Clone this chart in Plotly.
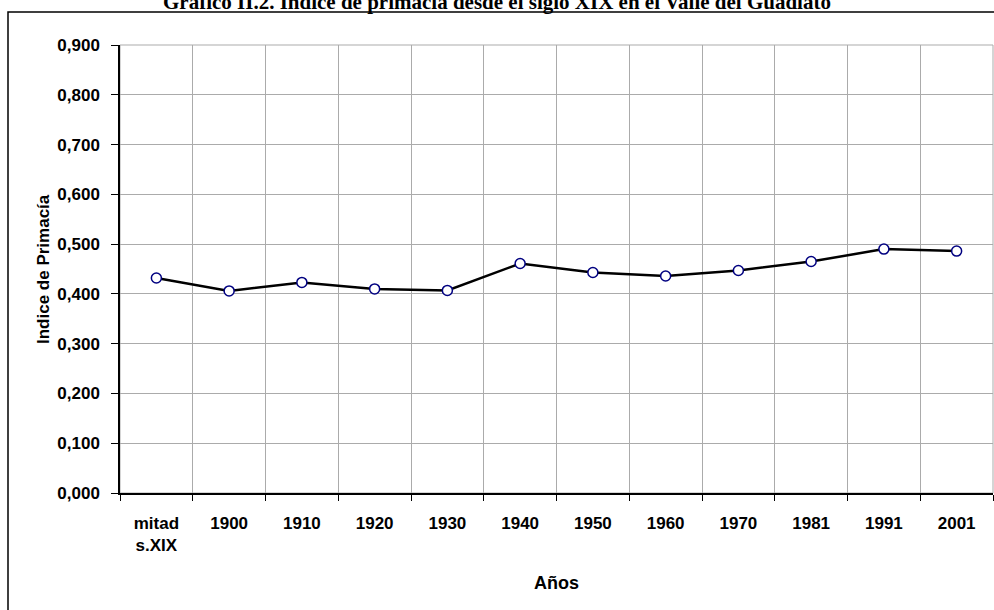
import plotly.graph_objects as go

categories = ["mitad<br>s.XIX", "1900", "1910", "1920", "1930", "1940",
              "1950", "1960", "1970", "1981", "1991", "2001"]
values = [0.432, 0.406, 0.423, 0.410, 0.407, 0.461,
          0.443, 0.436, 0.447, 0.465, 0.490, 0.486]
y_ticks = [0.0, 0.1, 0.2, 0.3, 0.4, 0.5, 0.6, 0.7, 0.8, 0.9]

title_text = "Gráfico II.2. Índice de primacía desde el siglo XIX en el Valle del Guadiato"
y_title = "Indice de Primacía"
x_title = "Años"

W, H = 994, 610
L, R, T, B = 120, 1, 45, 117
pw, ph = W - L - R, H - T - B

def px_x(px):
    return (px - L) / pw

def px_y(py):
    return (H - B - py) / ph

font_sans = "Liberation Sans, Arial, sans-serif"

fig = go.Figure()
fig.add_trace(go.Scatter(
    x=categories, y=values, mode="lines+markers",
    line=dict(color="black", width=2.5),
    marker=dict(symbol="circle", size=10, color="white",
                line=dict(color="#000080", width=1.5)),
    showlegend=False,
))

fig.update_layout(
    width=W, height=H,
    margin=dict(l=L, r=R, t=T, b=B, pad=0, autoexpand=False),
    paper_bgcolor="white", plot_bgcolor="white",
    separators=",.",
    font=dict(family=font_sans, size=16, color="black"),
)

fig.update_xaxes(
    type="category", tickson="boundaries", range=[-0.5, 11.5],
    automargin=False,
    showgrid=True, gridcolor="#ababab", gridwidth=1,
    showline=True, linecolor="black", linewidth=1.5,
    ticks="outside", ticklen=6, tickcolor="black", tickwidth=1,
    tickfont=dict(family=font_sans, size=17, color="black", weight="bold"),
    ticklabelstandoff=14,
)
fig.update_yaxes(
    range=[0, 0.9], tickvals=y_ticks, tickformat=".3f",
    automargin=False,
    showgrid=True, gridcolor="#ababab", gridwidth=1, zeroline=False,
    showline=True, linecolor="black", linewidth=1.5,
    ticks="outside", ticklen=7, tickcolor="black", tickwidth=1,
    tickfont=dict(family=font_sans, size=17, color="black", weight="bold"),
    ticklabelstandoff=8,
)

# plot area top/right border (gray)
fig.add_shape(type="rect", xref="paper", yref="paper", x0=0, y0=0, x1=1, y1=1,
              line=dict(color="#ababab", width=1), layer="below")
# outer chart frame
fig.add_shape(type="rect", xref="paper", yref="paper",
              x0=px_x(8), y0=px_y(700), x1=px_x(1100), y1=px_y(12),
              line=dict(color="black", width=1.5))

fig.add_annotation(text="<b>" + title_text + "</b>", xref="paper", yref="paper",
                   x=px_x(497), y=px_y(16), xanchor="center", yanchor="bottom",
                   showarrow=False,
                   font=dict(family="Liberation Serif, Times New Roman, serif", size=21, color="black"))
fig.add_annotation(text="<b>" + y_title + "</b>", xref="paper", yref="paper",
                   x=px_x(43), y=px_y(269), xanchor="center", yanchor="middle",
                   textangle=-90, showarrow=False,
                   font=dict(family=font_sans, size=17, color="black"))
fig.add_annotation(text="<b>" + x_title + "</b>", xref="paper", yref="paper",
                   x=px_x(556), y=px_y(583), xanchor="center", yanchor="middle",
                   showarrow=False,
                   font=dict(family=font_sans, size=18, color="black"))

fig.write_html(
    "out.html",
    config={"displayModeBar": False},
    post_script="document.documentElement.style.margin='0';document.body.style.margin='0';document.body.style.overflow='hidden';",
)
